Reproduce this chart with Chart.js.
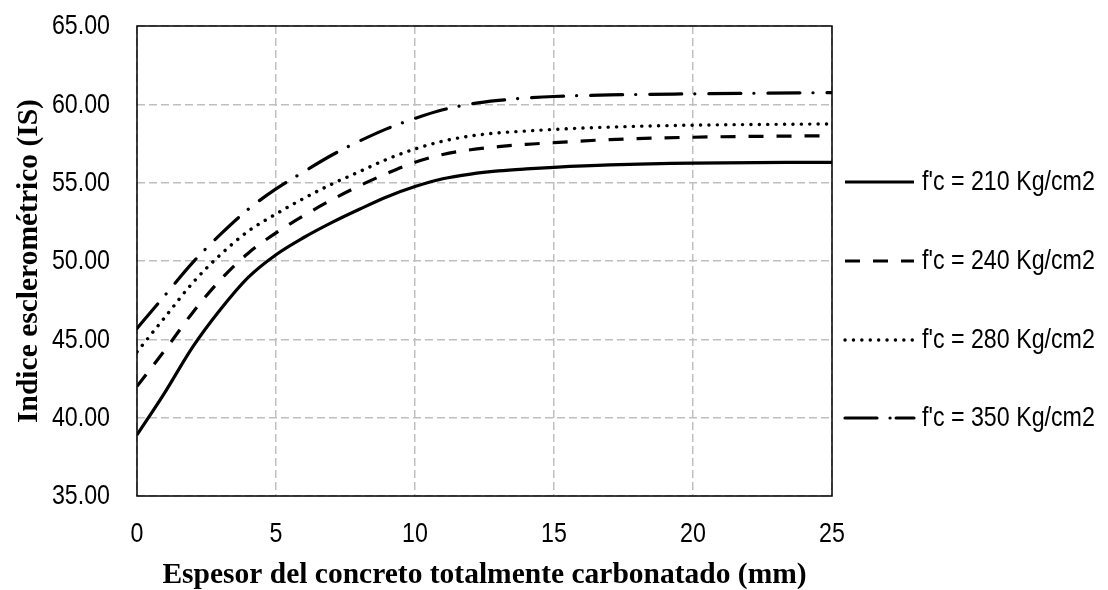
<!DOCTYPE html>
<html>
<head>
<meta charset="utf-8">
<script src="https://cdn.jsdelivr.net/npm/chart.js@4/dist/chart.umd.min.js"></script>
<style>
html,body{margin:0;padding:0;background:#fff;}
#wrap{width:1108px;height:590px;position:relative;}
</style>
</head>
<body>
<div id="wrap"><canvas id="c" width="1108" height="590"></canvas></div>
<script>
const xValues = [0,1,2,3,4,5,6,7,8,9,10,11,12,13,14,15,17,20,25];
const s210 = [38.9,41.6,44.5,46.9,48.95,50.4,51.5,52.45,53.3,54.1,54.75,55.25,55.55,55.75,55.88,55.98,56.13,56.25,56.3];
const s240 = [42.0,44.3,46.7,48.8,50.5,51.8,52.9,53.9,54.8,55.6,56.3,56.8,57.1,57.3,57.45,57.55,57.75,57.9,58.0];
const s280 = [44.2,46.4,48.6,50.4,51.9,53.0,54.0,54.9,55.7,56.5,57.15,57.65,57.98,58.18,58.3,58.4,58.55,58.67,58.75];
const s350 = [45.7,47.8,49.9,51.7,53.3,54.6,55.7,56.75,57.65,58.45,59.1,59.65,60.02,60.25,60.4,60.5,60.6,60.67,60.75];
const seriesLabels = ["f'c = 210 Kg/cm2","f'c = 240 Kg/cm2","f'c = 280 Kg/cm2","f'c = 350 Kg/cm2"];
const xTitle = "Espesor del concreto totalmente carbonatado (mm)";
const yTitle = "Indice esclerométrico (IS)";

const styles = [
  {dash:[], cap:'butt', w:3.2},
  {dash:[15,13], cap:'butt', w:3.2},
  {dash:[0.1,8.3], cap:'round', w:3.4},
  {dash:[32,13,0.1,14], cap:'round', w:3.2}
];
const allSeries = [s210,s240,s280,s350];
const datasets = allSeries.map((s,i)=>({
  label: seriesLabels[i],
  data: xValues.map((x,j)=>({x:x,y:s[j]})),
  borderColor:'#000',
  borderWidth: styles[i].w,
  borderDash: styles[i].dash,
  borderCapStyle: styles[i].cap,
  pointRadius:0,
  fill:false,
  cubicInterpolationMode:'monotone'
}));

const sansFam = "'Liberation Sans', Arial, sans-serif";
const NARROW = 0.86;
const FONT_PX = 27;
const titleFont = {family:"'Liberation Serif', 'Times New Roman', serif", size:29.5, weight:'bold', lineHeight:1.0};

function narrowText(ctx, text, x, y, align){
  ctx.save();
  ctx.translate(x, y);
  ctx.scale(NARROW, 1);
  ctx.textAlign = align;
  ctx.textBaseline = 'middle';
  ctx.fillText(text, 0, 0);
  ctx.restore();
}

const framePlugin = {
  id:'frame',
  afterDatasetsDraw(chart){
    const a = chart.chartArea, ctx = chart.ctx;
    ctx.save();
    ctx.strokeStyle = '#000';
    ctx.lineWidth = 1.5;
    ctx.setLineDash([]);
    ctx.strokeRect(a.left, a.top, a.right-a.left, a.bottom-a.top);
    ctx.restore();
  }
};
const tickPlugin = {
  id:'narrowTicks',
  afterDraw(chart){
    const ctx = chart.ctx, a = chart.chartArea;
    const xs = chart.scales.x, ys = chart.scales.y;
    ctx.save();
    ctx.fillStyle = '#000';
    ctx.font = FONT_PX + "px " + sansFam;
    ys.ticks.forEach(t=>{
      narrowText(ctx, Number(t.value).toFixed(2), a.left - 27, ys.getPixelForValue(t.value)+1, 'right');
    });
    xs.ticks.forEach(t=>{
      narrowText(ctx, String(t.value), xs.getPixelForValue(t.value), a.bottom + 39, 'center');
    });
    ctx.restore();
  }
};
const legendPlugin = {
  id:'customLegend',
  afterDraw(chart){
    const ctx = chart.ctx, a = chart.chartArea;
    const x0 = a.right + 13, x1 = a.right + 82, tx = a.right + 90;
    const ys = [182, 261, 340, 418];
    const legDash = [[],[15,13],[0.1,8.3],[32,13,0.1,6]];
    ctx.save();
    chart.data.datasets.forEach((d,i)=>{
      ctx.beginPath();
      ctx.strokeStyle = '#000';
      ctx.lineWidth = styles[i].w;
      ctx.lineCap = styles[i].cap;
      ctx.setLineDash(legDash[i]);
      ctx.moveTo(x0, ys[i]); ctx.lineTo(x1, ys[i]); ctx.stroke();
      ctx.setLineDash([]);
      ctx.fillStyle = '#000';
      ctx.font = FONT_PX + "px " + sansFam;
      narrowText(ctx, d.label, tx, ys[i]+1, 'left');
    });
    ctx.restore();
  }
};

new Chart(document.getElementById('c'), {
  type:'line',
  data:{datasets},
  options:{
    responsive:false,
    animation:false,
    layout:{padding:{left:0,right:276,top:26,bottom:0}},
    plugins:{legend:{display:false}, tooltip:{enabled:false}},
    scales:{
      x:{
        type:'linear', min:0, max:25,
        ticks:{stepSize:5, display:false},
        grid:{color:'#bfbfbf', lineWidth:1.5, drawTicks:false},
        border:{display:false, dash:[8,4]},
        title:{display:true, text:xTitle, font:titleFont, color:'#000', padding:{top:0,bottom:0}},
        afterFit(s){ s.height = 94; }
      },
      y:{
        min:35, max:65,
        ticks:{stepSize:5, display:false},
        grid:{color:'#bfbfbf', lineWidth:1.5, drawTicks:false},
        border:{display:false, dash:[8,4]},
        title:{display:true, text:yTitle, font:titleFont, color:'#000', padding:{top:15,bottom:0}},
        afterFit(s){ s.width = 137; }
      }
    }
  },
  plugins:[framePlugin, tickPlugin, legendPlugin]
});
</script>
</body>
</html>
